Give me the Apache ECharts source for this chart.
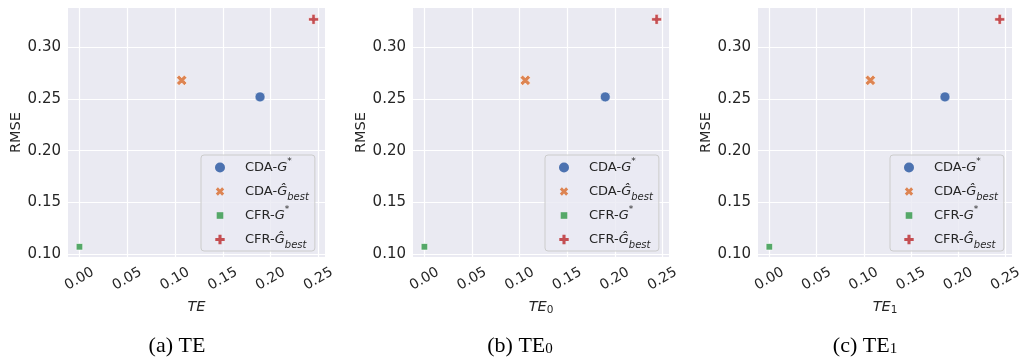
<!DOCTYPE html>
<html>
<head>
<meta charset="utf-8">
<script src="https://cdn.jsdelivr.net/npm/echarts@6/dist/echarts.min.js"></script>
<style>
  html, body { margin: 0; padding: 0; background: #ffffff; }
  #chart { width: 1025px; height: 362px; }
</style>
</head>
<body>
<div id="chart"></div>
<script>
// Methods, in legend order
const methods = ['CDA-G*', 'CDA-Gbest', 'CFR-G*', 'CFR-Gbest'];
// Treatment-effect error of each method, one array per panel
const teAll = [0.189, 0.107, 0.000, 0.245];
const teZero = [0.190, 0.106, 0.000, 0.244];
const teOne = [0.186, 0.107, 0.000, 0.244];
// RMSE of each method (same in every panel)
const rmse = [0.252, 0.268, 0.107, 0.327];
// Tick labels
const xTicks = [0.00, 0.05, 0.10, 0.15, 0.20, 0.25];
const yTicks = [0.10, 0.15, 0.20, 0.25, 0.30];

const panelTe = [teAll, teZero, teOne];
const xNames = ['{i|TE}', '{i|TE}{s|0}', '{i|TE}{s|1}'];
const captions = ['(a) TE', '(b) TE{s|0}', '(c) TE{s|1}'];

const palette = ['#4C72B0', '#DD8452', '#55A868', '#C44E52'];
// filled "plus" and "x" markers
const plusPath = 'path://M-1,-3L1,-3L1,-1L3,-1L3,1L1,1L1,3L-1,3L-1,1L-3,1L-3,-1L-1,-1Z';
const xPath = 'path://M2,-4L4,-2L2,0L4,2L2,4L0,2L-2,4L-4,2L-2,0L-4,-2L-2,-4L0,-2Z';
const symbols = ['circle', xPath, 'rect', plusPath];
const sizes = [10, 10.5, 6.5, 10];

// legend icons drawn inside a 10x10 box (leading moves reserve the box)
const legendIcons = [
  'circle',
  'path://M-5,-5M5,5M2.1,-4.2L4.2,-2.1L2.1,0L4.2,2.1L2.1,4.2L0,2.1L-2.1,4.2L-4.2,2.1L-2.1,0L-4.2,-2.1L-2.1,-4.2L0,-2.1Z',
  'path://M-5,-5M5,5M-3.3,-3.3L3.3,-3.3L3.3,3.3L-3.3,3.3Z',
  'path://M-5,-5M5,5M-1.55,-4.7L1.55,-4.7L1.55,-1.55L4.7,-1.55L4.7,1.55L1.55,1.55L1.55,4.7L-1.55,4.7L-1.55,1.55L-4.7,1.55L-4.7,-1.55L-1.55,-1.55Z'
];

const legendLabels = {
  'CDA-G*': '{n|CDA-}{i|G}{sup|*}',
  'CDA-Gbest': '{n|CDA-}{i|Ĝ}{sub|best}',
  'CFR-G*': '{n|CFR-}{i|G}{sup|*}',
  'CFR-Gbest': '{n|CFR-}{i|Ĝ}{sub|best}'
};

const ink = '#262626';
const sans = 'DejaVu Sans';

const panels = [
  { left: 68, width: 257, legendLeft: 201, caption: 172 },
  { left: 413, width: 256, legendLeft: 545, caption: 515 },
  { left: 758, width: 255, legendLeft: 890, caption: 860 }
];

const grid = [], xAxis = [], yAxis = [], series = [], legend = [], title = [];

panels.forEach((p, k) => {
  grid.push({
    left: p.left, top: 8, width: p.width, height: 249,
    show: true, backgroundColor: '#EAEAF2', borderWidth: 0
  });
  xAxis.push({
    type: 'value', gridIndex: k, min: -0.012, max: 0.257,
    axisLine: { show: false },
    axisTick: { show: false, customValues: xTicks },
    axisLabel: {
      customValues: xTicks, rotate: 30, align: 'center', verticalAlign: 'middle',
      margin: 22, color: ink, fontFamily: sans, fontSize: 14,
      formatter: v => v.toFixed(2)
    },
    splitLine: { show: true, lineStyle: { color: '#ffffff', width: 1.2 } },
    name: xNames[k], nameLocation: 'middle', nameGap: 37,
    nameTextStyle: {
      rich: {
        i: { fontFamily: sans, fontStyle: 'italic', fontSize: 14.5, color: ink, lineHeight: 18 },
        s: { fontFamily: sans, fontSize: 10.5, color: ink, lineHeight: 11, verticalAlign: 'bottom' }
      }
    }
  });
  yAxis.push({
    type: 'value', gridIndex: k, min: 0.0971, max: 0.338,
    axisLine: { show: false },
    axisTick: { show: false, customValues: yTicks },
    axisLabel: {
      customValues: yTicks, margin: 7, color: ink, fontFamily: sans, fontSize: 15,
      formatter: v => v.toFixed(2)
    },
    splitLine: { show: true, lineStyle: { color: '#ffffff', width: 1.2 } },
    name: 'RMSE', nameLocation: 'middle', nameGap: 44,
    nameTextStyle: { color: ink, fontFamily: sans, fontSize: 14.5 }
  });
  methods.forEach((m, j) => {
    series.push({
      type: 'scatter', name: m, xAxisIndex: k, yAxisIndex: k,
      symbol: symbols[j], symbolSize: sizes[j],
      itemStyle: { color: palette[j], borderColor: '#ffffff', borderWidth: 0.6, opacity: 1 },
      emphasis: { disabled: true },
      data: [[panelTe[k][j], rmse[j]]]
    });
  });
  legend.push({
    data: methods.map((m, j) => ({ name: m, icon: legendIcons[j] })),
    orient: 'vertical', left: p.legendLeft, top: 155,
    itemWidth: 10, itemHeight: 10, itemGap: 3,
    padding: [2, 6, 1, 14],
    backgroundColor: 'rgba(234,234,242,0.8)', borderColor: '#cccccc', borderWidth: 1, borderRadius: 3,
    selectedMode: false,
    itemStyle: { borderWidth: 0 },
    formatter: name => legendLabels[name],
    textStyle: {
      lineHeight: 21,
      rich: {
        n: { fontFamily: sans, fontSize: 13, color: ink, lineHeight: 21, height: 21, padding: [0, 0, 0, 15] },
        i: { fontFamily: sans, fontStyle: 'italic', fontSize: 13, color: ink, lineHeight: 21, height: 21 },
        sup: { fontFamily: sans, fontSize: 9, color: ink, lineHeight: 13, verticalAlign: 'top' },
        sub: { fontFamily: sans, fontStyle: 'italic', fontSize: 10, color: ink, lineHeight: 12, verticalAlign: 'bottom' }
      }
    }
  });
  title.push({
    text: captions[k], left: p.caption, top: 330, textAlign: 'center',
    textStyle: {
      fontFamily: 'Liberation Serif', fontSize: 22, fontWeight: 'normal', color: '#000000',
      rich: {
        s: { fontFamily: 'Liberation Serif', fontSize: 15, color: '#000000', verticalAlign: 'bottom', lineHeight: 14 }
      }
    }
  });
});

const chart = echarts.init(document.getElementById('chart'), null, { renderer: 'canvas' });
chart.setOption({
  animation: false,
  backgroundColor: '#ffffff',
  grid, xAxis, yAxis, series, legend, title
});
</script>
</body>
</html>
